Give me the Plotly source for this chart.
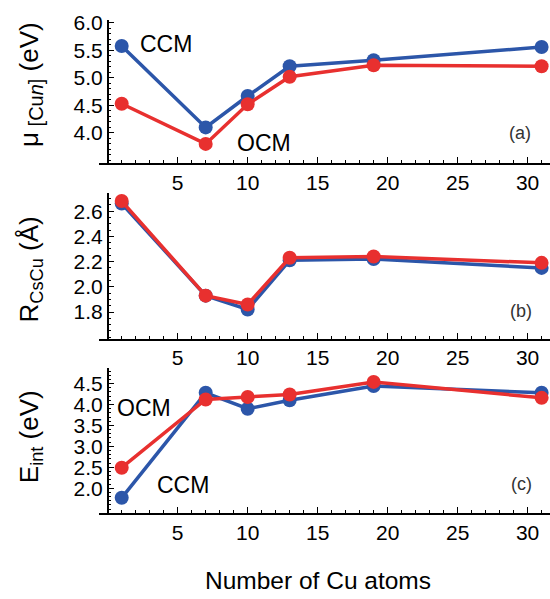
import plotly.graph_objects as go

# Data
n_atoms = [1, 7, 10, 13, 19, 31]
mu_ccm = [5.58, 4.10, 4.67, 5.21, 5.32, 5.56]
mu_ocm = [4.53, 3.80, 4.52, 5.02, 5.23, 5.21]
r_ccm = [2.66, 1.93, 1.82, 2.21, 2.22, 2.15]
r_ocm = [2.68, 1.93, 1.86, 2.23, 2.24, 2.19]
e_ccm = [1.77, 4.28, 3.90, 4.10, 4.44, 4.28]
e_ocm = [2.49, 4.12, 4.18, 4.24, 4.54, 4.16]

x_ticks = [5, 10, 15, 20, 25, 30]
a_ticks = [4.0, 4.5, 5.0, 5.5, 6.0]
b_ticks = [1.8, 2.0, 2.2, 2.4, 2.6]
c_ticks = [2.0, 2.5, 3.0, 3.5, 4.0, 4.5]

BLUE = "#2c56a9"
RED = "#e8302f"
FONT = "Liberation Sans"
W, H = 550, 599

fig = go.Figure()

panels = [
    ("", mu_ccm, mu_ocm, [3.46, 6.06], a_ticks, 0.1, (11.7, 156.7)),
    ("2", r_ccm, r_ocm, [1.59, 2.74], b_ticks, 0.05, (188, 335)),
    ("3", e_ccm, e_ocm, [1.41, 4.87], c_ticks, 0.1, (365, 511.7)),
]

layout = {}
for suf, ccm, ocm, yr, yt, ymin, (top, bot) in panels:
    xa = "x" + suf
    ya = "y" + suf
    for vals, col in ((ccm, BLUE), (ocm, RED)):
        fig.add_trace(go.Scatter(
            x=n_atoms, y=vals, xaxis=xa, yaxis=ya, mode="lines+markers",
            line=dict(color=col, width=3.5),
            marker=dict(color=col, size=14),
            showlegend=False, cliponaxis=False, hoverinfo="skip"))
    layout["xaxis" + suf] = dict(
        domain=[99.3 / W, 1], range=[-0.6, 31.6], anchor=ya,
        showgrid=False, zeroline=False, showline=True, linecolor="black",
        linewidth=1.5, ticks="inside", ticklen=6, tickwidth=1.3,
        tickcolor="black", tickmode="array", tickvals=x_ticks,
        tickfont=dict(family=FONT, size=21, color="black"),
        minor=dict(ticks="inside", ticklen=3, tickwidth=1, tickcolor="black",
                   tickmode="linear", tick0=0, dtick=1, showgrid=False))
    layout["yaxis" + suf] = dict(
        domain=[1 - bot / H, 1 - top / H], range=yr, anchor="free",
        position=107.7 / W,
        showgrid=False, zeroline=False, showline=True, linecolor="black",
        linewidth=1.5, ticks="inside", ticklen=6, tickwidth=1.3,
        tickcolor="black", tickmode="array", tickvals=yt, tickformat=".1f",
        tickfont=dict(family=FONT, size=21, color="black"),
        minor=dict(ticks="inside", ticklen=3, tickwidth=1, tickcolor="black",
                   tickmode="linear", tick0=0, dtick=ymin, showgrid=False))

def px(x, y):
    return x / W, 1 - y / H

anns = []
def add_text(text, x, y, size, angle=0, color="black"):
    xx, yy = px(x, y)
    anns.append(dict(text=text, x=xx, y=yy, xref="paper", yref="paper",
                     showarrow=False, textangle=angle, xanchor="center",
                     yanchor="middle",
                     font=dict(family=FONT, size=size, color=color)))

add_text("CCM", 166, 36, 23)
add_text("OCM", 264, 137, 23)
add_text("(a)", 520, 127, 18, color="#333333")
add_text("(b)", 521, 307, 18, color="#333333")
add_text("(c)", 521, 482, 18, color="#333333")
add_text("OCM", 144, 405, 23)
add_text("CCM", 183, 483, 23)
add_text("Number of Cu atoms", 318, 580, 24.5)
add_text("μ<sub><span style='font-size:20px'> [Cu<i>n</i>]</span></sub> (eV)",
         31, 78, 26, -90)
add_text("R<sub>CsCu</sub> (Å)", 30, 265, 26, -90)
add_text("E<sub>int</sub> (eV)", 30, 435, 26, -90)

fig.update_layout(
    width=W, height=H, margin=dict(l=0, r=0, t=0, b=0),
    paper_bgcolor="white", plot_bgcolor="white",
    annotations=anns, **layout)

fig.write_html("out.html", config={"displayModeBar": False},
               post_script="document.body.style.margin='0';"
                           "document.body.style.overflow='hidden';")
